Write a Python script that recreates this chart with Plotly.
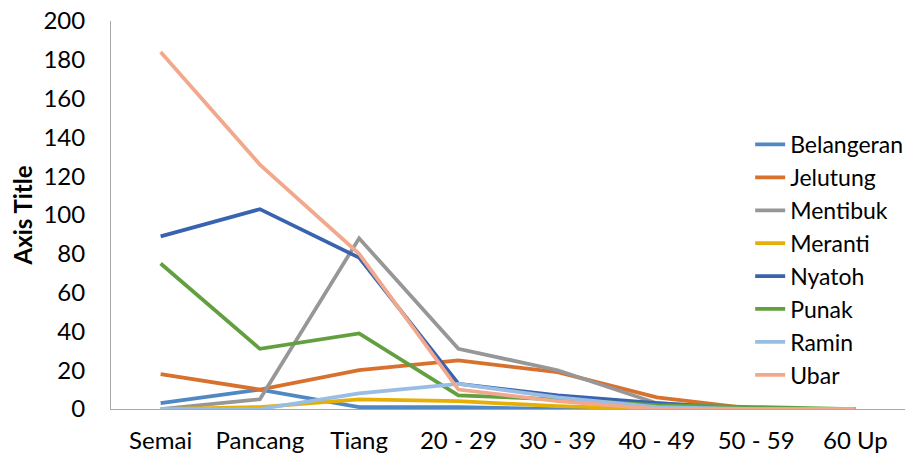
import plotly.graph_objects as go

categories = ["Semai", "Pancang", "Tiang", "20 - 29", "30 - 39", "40 - 49", "50 - 59", "60 Up"]

belangeran = [3, 10, 1, 1, 0, 0, 0, 0]
jelutung = [18, 10, 20, 25, 19, 6, 0, 0]
mentibuk = [0, 5, 88, 31, 20, 3, 0, 0]
meranti = [0, 1, 5, 4, 1.5, 0, 0, 0]
nyatoh = [89, 103, 78, 13, 7, 3, 0, 0]
punak = [75, 31, 39, 7, 5, 2, 1, 0]
ramin = [0, 0, 8, 13, 6, 1, 0, 0]
ubar = [184, 126, 80, 10, 4, 0, 0, 0]

series_names = ["Belangeran", "Jelutung", "Mentibuk", "Meranti", "Nyatoh", "Punak", "Ramin", "Ubar"]
series_values = [belangeran, jelutung, mentibuk, meranti, nyatoh, punak, ramin, ubar]
colors = ["#4F88C3", "#D8712D", "#979797", "#E6AF05", "#3A63AF", "#62A03F", "#99BDE3", "#F2A88C"]

FONT = "Lato"
fig = go.Figure()
for name, vals, col in zip(series_names, series_values, colors):
    fig.add_trace(go.Scatter(
        x=categories, y=vals, mode="lines", name=name, legendgroup=name,
        line=dict(color=col, width=3.75),
    ))

fig.update_layout(
    width=913, height=460,
    margin=dict(l=111, r=8, t=21, b=51, autoexpand=False),
    plot_bgcolor="white", paper_bgcolor="white",
    font=dict(family=FONT, size=24, color="#000000"),
    showlegend=True,
    legend=dict(
        x=0.805, xanchor="left", y=0.384, yanchor="middle",
        bgcolor="rgba(0,0,0,0)", traceorder="grouped", tracegroupgap=0,
        font=dict(family=FONT, size=23, color="#000000"),
    ),
    xaxis=dict(
        type="category", range=[-0.5, 7.5], showgrid=False, zeroline=False,
        showline=True, linecolor="#A8A8A8", linewidth=1, automargin=False,
        ticks="outside", ticklen=10, tickcolor="rgba(0,0,0,0)",
        tickfont=dict(family=FONT, size=24), ticklabeloverflow="allow",
    ),
    yaxis=dict(
        range=[0, 200], dtick=20, showgrid=False, zeroline=False,
        showline=True, linecolor="#A8A8A8", linewidth=1, automargin=False,
        ticks="outside", ticklen=20, tickcolor="rgba(0,0,0,0)",
        tickfont=dict(family=FONT, size=24), ticklabeloverflow="allow",
        title=dict(text="<b>Axis Title</b>", font=dict(family=FONT, size=24), standoff=4),
    ),
)

fig.write_html("out.html", config={"displayModeBar": False},
               post_script="document.body.style.margin='0';")
